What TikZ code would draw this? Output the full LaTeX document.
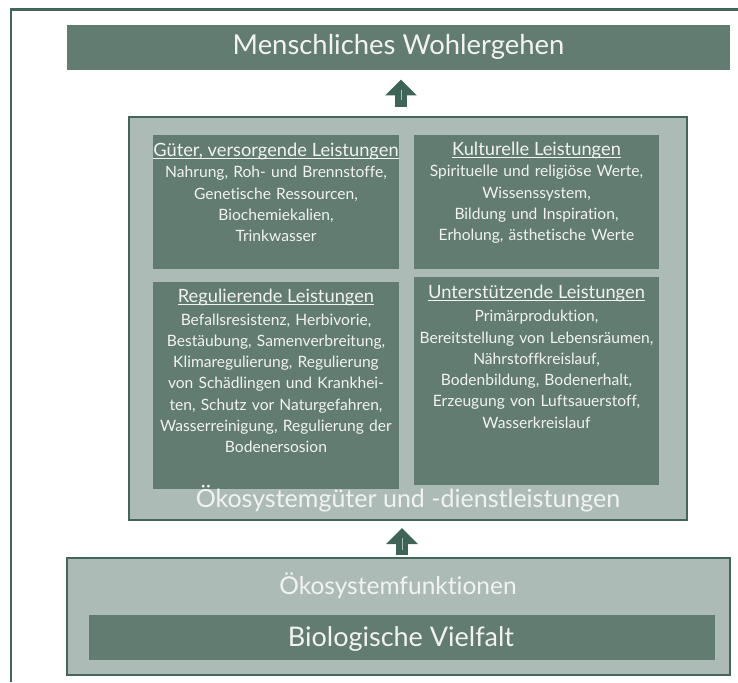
\documentclass[tikz,border=0pt]{standalone}
\usepackage{fontspec}
\setmainfont{Lato}[Ligatures={NoCommon}]
\usetikzlibrary{arrows.meta}
\definecolor{darkfill}{HTML}{627C71}
\definecolor{lightfill}{HTML}{ADBBB6}
\definecolor{edgec}{HTML}{436659}
\definecolor{arrowc}{HTML}{3E6357}
\definecolor{txt}{HTML}{F2F3F1}
\newcommand\myul[1]{\setbox0\hbox{#1}\rlap{\rule[-2.5pt]{\wd0}{0.8pt}}\box0}
\begin{document}
\begin{tikzpicture}[x=1pt,y=-1pt,
  darkbox/.style={fill=darkfill, draw=none, inner sep=0pt, outer sep=0pt, anchor=north west},
  lightbox/.style={fill=lightfill, draw=edgec, line width=2pt, inner sep=0pt, outer sep=0pt, anchor=north west},
  biglabel/.style={text=txt, inner sep=0pt, anchor=base},
  head/.style={text=txt, inner sep=0pt, anchor=base, font=\fontsize{18.3}{22}\selectfont},
  body/.style={text=txt, inner sep=0pt, anchor=base, align=center, text width=270pt, font=\fontsize{15.6}{21.3}\selectfont},
  uparrow/.style={line width=12.5pt, draw=arrowc, -{Triangle[width=31pt,length=16pt]}},
  shaftline/.style={draw=lightfill, line width=0.6pt}
]
\useasboundingbox (0,0) rectangle (738,682);
\draw[edgec, line width=2.5pt] (11,682) -- (11,9.5) -- (738,9.5);

% top box
\node[darkbox, minimum width=663pt, minimum height=45pt] (top) at (67,25) {};
\node[biglabel, font=\fontsize{27.4}{30}\selectfont] (toplabel) at (398.5,55) {Menschliches Wohlergehen};

% middle box
\node[lightbox, minimum width=558pt, minimum height=403pt] (mid) at (129,117) {};
\node[darkbox, minimum width=246pt, minimum height=134pt] (q1) at (153,135) {};
\node[darkbox, minimum width=245pt, minimum height=134pt] (q2) at (414,135) {};
\node[darkbox, minimum width=246pt, minimum height=207pt] (q3) at (153,282) {};
\node[darkbox, minimum width=245pt, minimum height=208pt] (q4) at (414,277) {};

\node[head] (h1) at (276,156) {\myul{Güter, versorgende Leistungen}};
\node[body] (b1) at (276,177.7) {Nahrung, Roh- und Brennstoffe,\\Genetische Ressourcen,\\Biochemiekalien,\\Trinkwasser};
\node[head] (h2) at (536.5,155.7) {\myul{Kulturelle Leistungen}};
\node[body] (b2) at (536.5,176.7) {Spirituelle und religiöse Werte,\\Wissenssystem,\\Bildung und Inspiration,\\Erholung, ästhetische Werte};
\node[head] (h3) at (276,302) {\myul{Regulierende Leistungen}};
\node[body] (b3) at (276,325) {Befallsresistenz, Herbivorie,\\Bestäubung, Samenverbreitung,\\Klimaregulierung, Regulierung\\von Schädlingen und Krankhei-\\ten, Schutz vor Naturgefahren,\\Wasserreinigung, Regulierung der\\Bodenersosion};
\node[head] (h4) at (536.5,298.3) {\myul{Unterstützende Leistungen}};
\node[body] (b4) at (536.5,321.7) {Primärproduktion,\\Bereitstellung von Lebensräumen,\\Nährstoffkreislauf,\\Bodenbildung, Bodenerhalt,\\Erzeugung von Luftsauerstoff,\\Wasserkreislauf};

\node[biglabel, font=\fontsize{25}{28}\selectfont] (midlabel) at (408,507) {Ökosystemgüter und -dienstleistungen};

% bottom box
\node[lightbox, minimum width=663pt, minimum height=117pt] (bot) at (67,558) {};
\node[biglabel, font=\fontsize{24.5}{28}\selectfont] (botlabel) at (398,594) {Ökosystemfunktionen};
\node[darkbox, minimum width=626pt, minimum height=45pt] (bio) at (89,615) {};
\node[biglabel, font=\fontsize{27}{30}\selectfont] (biolabel) at (401,646) {Biologische Vielfalt};

% arrows
\draw[uparrow, shorten <=10pt, shorten >=9.5pt] ([xshift=2.5pt]top.south |- mid.north) -- ([xshift=2.5pt]top.south);
\draw[shaftline] ([xshift=2.5pt,yshift=-20pt]top.south) -- ([xshift=2.5pt,yshift=-30pt]top.south);
\draw[uparrow, shorten <=3pt, shorten >=8pt] ([xshift=3.5pt]bot.north) -- ([xshift=3.5pt]bot.north |- mid.south);
\draw[shaftline] ([xshift=3.5pt,yshift=20pt]bot.north) -- ([xshift=3.5pt,yshift=8pt]bot.north);
\end{tikzpicture}
\end{document}
